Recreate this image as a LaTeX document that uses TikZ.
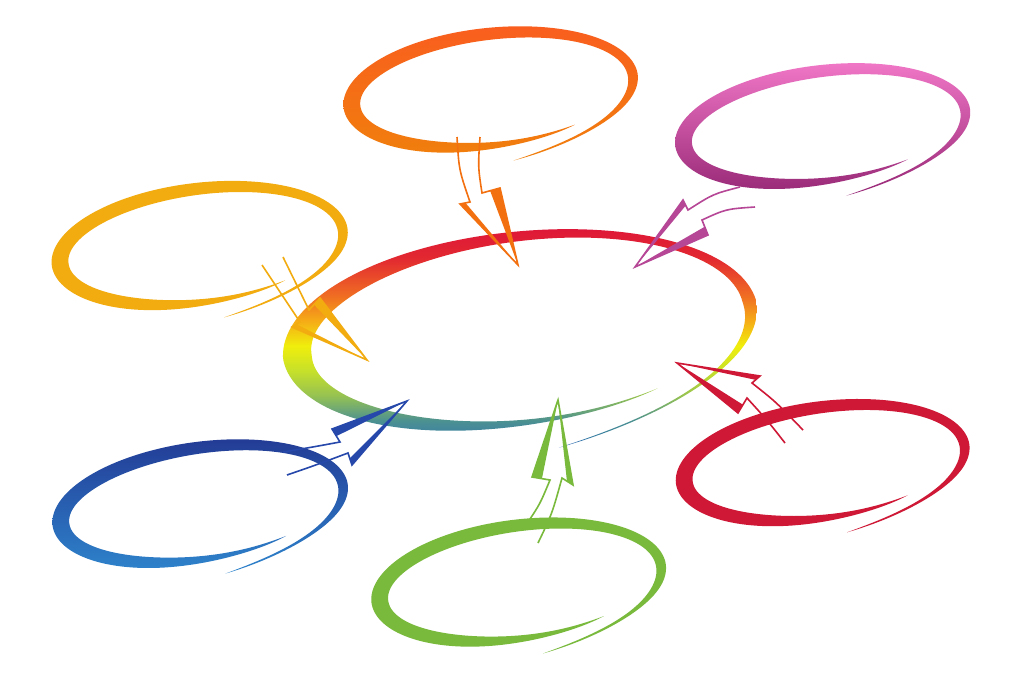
\documentclass[tikz,border=0pt]{standalone}
\usepackage{amssymb}
\usepackage{amsmath, amsthm}
\usepackage{tikz}
\usetikzlibrary{calc}

\definecolor{hubA}{RGB}{222,24,56}
\definecolor{hubB}{RGB}{226,40,48}
\definecolor{hubC}{RGB}{240,110,35}
\definecolor{hubD}{RGB}{245,172,22}
\definecolor{hubE}{RGB}{240,238,12}
\definecolor{hubF}{RGB}{198,224,42}
\definecolor{hubG}{RGB}{150,194,82}
\definecolor{hubH}{RGB}{76,145,145}
\definecolor{hubI}{RGB}{58,128,162}
\definecolor{hubJ}{RGB}{45,100,185}
\definecolor{orangeTop}{RGB}{249,94,30}
\definecolor{orangeBot}{RGB}{240,128,12}
\definecolor{ringYellow}{RGB}{242,172,16}
\definecolor{pinkTop}{RGB}{240,118,198}
\definecolor{pinkBot}{RGB}{150,40,118}
\definecolor{blueTop}{RGB}{35,60,150}
\definecolor{blueBot}{RGB}{46,132,204}
\definecolor{ringGreen}{RGB}{121,185,60}
\definecolor{ringRed}{RGB}{206,24,54}
\definecolor{arrOrange}{RGB}{243,112,16}
\definecolor{arrPink}{RGB}{182,70,150}
\definecolor{arrBlue}{RGB}{38,72,170}

\pgfdeclareverticalshading{hubshade}{100bp}{color(0bp)=(hubJ); color(25bp)=(hubJ); color(27.7bp)=(hubI); color(31.2bp)=(hubH); color(36.9bp)=(hubG); color(42.6bp)=(hubF); color(48.3bp)=(hubE); color(54bp)=(hubD); color(59.7bp)=(hubC); color(68.4bp)=(hubB); color(75bp)=(hubA); color(100bp)=(hubA)}

\tikzset{
  declare function={
    uu(\x)=(\x+85)/391;
    rr(\x)=1+0.32*exp(-9*uu(\x));
    sa(\x)=1/(1+exp(-(uu(\x)-0.14)/0.03));
    sb(\x)=1/(1+exp(-(0.9-uu(\x))/0.04));
    tp(\x)=(0.15+0.85*sa(\x)*sb(\x))*(1-exp(-uu(\x)/0.02))*(1-exp(-(1-uu(\x))/0.02));
    wd(\x,\y,\z)=(1-\y-\y*cos(\x)-\z*abs(sin(\x)))*tp(\x);
  },
}

% brush ellipse: a, b, half width, paint, left bias, top/bottom thinning
\newcommand{\brushring}[6]{%
  \path[#4] plot[domain=-85:306, samples=170, variable=\t]
    ({(#1*rr(\t)+#3*wd(\t,#5,#6))*cos(\t)}, {-(#2*rr(\t)+#3*wd(\t,#5,#6))*sin(\t)})
    -- plot[domain=306:-85, samples=170, variable=\t]
    ({(#1*rr(\t)-#3*wd(\t,#5,#6))*cos(\t)}, {-(#2*rr(\t)-#3*wd(\t,#5,#6))*sin(\t)}) -- cycle;
}

% brush arrow from the coordinates <prefix>ls ... <prefix>rs
\newcommand{\brusharrow}[2]{%
  \draw[#2, line width=1.2pt] (#1ls) .. controls (#1lc) .. (#1le) -- (#1lb) -- (#1t) -- (#1rb) -- (#1re) .. controls (#1rc) .. (#1rs);
  \fill[#2] (#1lb) -- (#1t) -- ($(#1le)!0.45!(#1lb)$) -- cycle;
  \fill[#2] (#1rb) -- (#1t) -- ($(#1re)!0.45!(#1rb)$) -- cycle;
}

\begin{document}
\begin{tikzpicture}[x=0.75pt,y=0.75pt,yscale=-1,xscale=1]

        \useasboundingbox (0,0) rectangle (1024,682);
        \fill[white] (0,0) rectangle (1024,682);

        \coordinate (hub) at (518.5,330);
        \coordinate (topring) at (489,90);
        \coordinate (leftring) at (198,246);
        \coordinate (pinkring) at (821,126.5);
        \coordinate (bluering) at (198.5,504);
        \coordinate (greenring) at (517,582.5);
        \coordinate (redring) at (821,463);

        %Shape: Ellipse (centre)
        \begin{scope}[shift={(hub)}, rotate=-7]
        \brushring{222.6}{92.6}{14.5}{shade, shading=hubshade}{0.25}{0.4}
        \end{scope}
        %Shape: Ellipse (orange)
        \begin{scope}[shift={(topring)}, rotate=-7]
        \brushring{138}{55.5}{8.5}{top color=orangeTop, bottom color=orangeBot}{0.18}{0.1}
        \end{scope}
        %Shape: Ellipse (yellow)
        \begin{scope}[shift={(leftring)}, rotate=-7.7]
        \brushring{139}{56.5}{8.5}{fill=ringYellow}{0.18}{0.1}
        \end{scope}
        %Shape: Ellipse (pink)
        \begin{scope}[shift={(pinkring)}, rotate=-7.7]
        \brushring{138.5}{54.7}{8.5}{top color=pinkTop, bottom color=pinkBot}{0.18}{0.1}
        \end{scope}
        %Shape: Ellipse (blue)
        \begin{scope}[shift={(bluering)}, rotate=-8.7]
        \brushring{139}{55.4}{8.5}{top color=blueTop, bottom color=blueBot}{0.18}{0.1}
        \end{scope}
        %Shape: Ellipse (green)
        \begin{scope}[shift={(greenring)}, rotate=-8.1]
        \brushring{138.4}{56.2}{8.5}{fill=ringGreen}{0.18}{0.1}
        \end{scope}
        %Shape: Ellipse (red)
        \begin{scope}[shift={(redring)}, rotate=-8.3]
        \brushring{138}{55}{8.5}{fill=ringRed}{0.18}{0.1}
        \end{scope}

        %Arrow points
        \coordinate (o-ls) at (457,137); \coordinate (o-lc) at (459,170); \coordinate (o-le) at (470,202);
        \coordinate (o-lb) at (460,204); \coordinate (o-t) at (518,265); \coordinate (o-rb) at (500,188);
        \coordinate (o-re) at (482,193); \coordinate (o-rc) at (478,167); \coordinate (o-rs) at (480,137);

        \coordinate (y-ls) at (262,265); \coordinate (y-lc) at (281,294); \coordinate (y-le) at (300,322);
        \coordinate (y-lb) at (292,327); \coordinate (y-t) at (367,360); \coordinate (y-rb) at (320,298);
        \coordinate (y-re) at (309,310); \coordinate (y-rc) at (296,283); \coordinate (y-rs) at (283,257);

        \coordinate (p-ls) at (740,187); \coordinate (p-lc) at (713,194); \coordinate (p-le) at (688,210);
        \coordinate (p-lb) at (683,200); \coordinate (p-t) at (635,267); \coordinate (p-rb) at (708,235);
        \coordinate (p-re) at (702,220); \coordinate (p-rc) at (726,209); \coordinate (p-rs) at (755,207);

        \coordinate (r-ls) at (803,430); \coordinate (r-lc) at (776,402); \coordinate (r-le) at (752,383);
        \coordinate (r-lb) at (760,376); \coordinate (r-t) at (677,363); \coordinate (r-rb) at (738,413);
        \coordinate (r-re) at (747,398); \coordinate (r-rc) at (767,420); \coordinate (r-rs) at (785,443);

        \coordinate (b-ls) at (283,452); \coordinate (b-lc) at (313,447); \coordinate (b-le) at (340,442);
        \coordinate (b-lb) at (332,429); \coordinate (b-t) at (407,401); \coordinate (b-rb) at (352,465);
        \coordinate (b-re) at (348,453); \coordinate (b-rc) at (316,465); \coordinate (b-rs) at (287,475);

        \coordinate (g-ls) at (528,522); \coordinate (g-lc) at (540,504); \coordinate (g-le) at (550,480);
        \coordinate (g-lb) at (532,477); \coordinate (g-t) at (558,400); \coordinate (g-rb) at (573,485);
        \coordinate (g-re) at (562,478); \coordinate (g-rc) at (552,514); \coordinate (g-rs) at (538,543);

        %Curve Lines (arrows)
        \brusharrow{o-}{arrOrange}
        \brusharrow{y-}{ringYellow}
        \brusharrow{p-}{arrPink}
        \brusharrow{r-}{ringRed}
        \brusharrow{b-}{arrBlue}
        \brusharrow{g-}{ringGreen}

\end{tikzpicture}
\end{document}
